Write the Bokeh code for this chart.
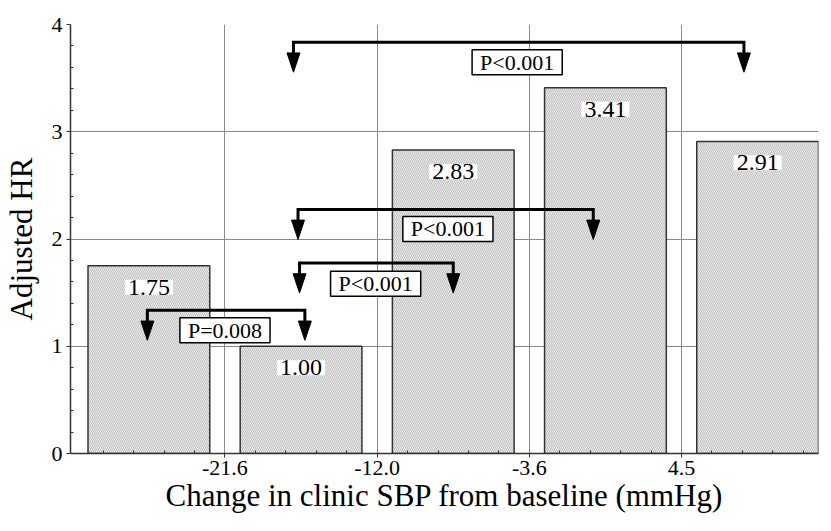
from bokeh.plotting import figure
from bokeh.models import FixedTicker, Label, Range1d
from bokeh.embed import file_html
from bokeh.resources import INLINE

# ---- data ----
bar_pos = [0.5, 1.5, 2.5, 3.5, 4.5]
hr_values = [1.75, 1.00, 2.83, 3.41, 2.91]
hr_labels = ["1.75", "1.00", "2.83", "3.41", "2.91"]
tick_pos = [1, 2, 3, 4]
tick_labels = ["-21.6", "-12.0", "-3.6", "4.5"]

br_left = [1.45, 1.48, 1.49, 0.49]
br_right = [4.41, 3.42, 2.50, 1.525]
br_y = [3.835, 2.276, 1.776, 1.335]
p_text = ["P<0.001", "P<0.001", "P<0.001", "P=0.008"]
p_x = [2.92, 2.465, 1.99, 1.0]
p_y = [3.649, 2.094, 1.582, 1.149]

x_title = "Change in clinic SBP from baseline (mmHg)"
y_title = "Adjusted HR"

FONT = "Liberation Serif"

p = figure(width=820, height=515, x_range=Range1d(-0.015, 4.9), y_range=Range1d(0, 4),
           output_backend="svg", toolbar_location=None,
           min_border_left=62, min_border_right=2, min_border_top=24, min_border_bottom=62)
p.outline_line_color = None
p.background_fill_color = "white"

# bars
p.vbar(x=bar_pos, top=hr_values, width=0.8, bottom=0,
       fill_color="#e8e8e8", line_color="#333333", line_width=1.5,
       hatch_pattern="\\", hatch_color="#a8a8a8", hatch_scale=4, hatch_weight=0.6)

# value labels
for x, v, t in zip(bar_pos, hr_values, hr_labels):
    p.add_layout(Label(x=x, y=v - 0.20, text=t, text_align="center",
                       text_baseline="middle", text_font=FONT, text_font_size="24px",
                       text_color="black", background_fill_color="white",
                       padding=(3, 0)))

# brackets
drop = 0.28
head_len = 0.18
head_w = 0.085
xs, ys, hx, hy = [], [], [], []
for l, r, y in zip(br_left, br_right, br_y):
    base = y - drop + head_len
    tip = y - drop
    xs.append([l, l, r, r])
    ys.append([base, y, y, base])
    for cx in (l, r):
        hx.append([cx - head_w / 2, cx + head_w / 2, cx])
        hy.append([base, base, tip])
p.multi_line(xs=xs, ys=ys, line_color="black", line_width=3, line_join="miter")
p.patches(xs=hx, ys=hy, fill_color="black", line_color="black", line_width=1)

for x, y, t in zip(p_x, p_y, p_text):
    p.add_layout(Label(x=x, y=y, text=t, text_align="center",
                       text_baseline="middle", text_font=FONT, text_font_size="22px",
                       text_color="black", background_fill_color="white",
                       border_line_color="black", border_line_width=1.5,
                       padding=(8, 0)))

# axes
minor_x = [round(i * 0.2, 2) for i in range(25) if i % 5]
minor_y = [round(i * 0.2, 2) for i in range(21) if i % 5]
p.xaxis.ticker = FixedTicker(ticks=tick_pos, minor_ticks=minor_x)
p.xaxis.major_label_overrides = {k: v for k, v in zip(tick_pos, tick_labels)}
p.yaxis.ticker = FixedTicker(ticks=[0, 1, 2, 3, 4], minor_ticks=minor_y)

for ax in (p.xaxis[0], p.yaxis[0]):
    ax.axis_line_color = "#333333"
    ax.axis_line_width = 1.5
    ax.major_tick_out = 4
    ax.major_tick_in = 0
    ax.minor_tick_in = 3
    ax.minor_tick_out = 0
    ax.major_tick_line_color = "#333333"
    ax.minor_tick_line_color = "#333333"
    ax.major_label_text_font = FONT
    ax.major_label_text_font_size = "22px"
    ax.major_label_text_color = "black"
    ax.axis_label_text_font = FONT
    ax.axis_label_text_font_size = "31px"
    ax.axis_label_text_font_style = "normal"
    ax.axis_label_text_color = "black"

p.xaxis.axis_label = x_title
p.yaxis.axis_label = y_title
p.xaxis.major_label_standoff = 3
p.xaxis.axis_label_standoff = 0
p.xaxis.axis_label_text_baseline = "middle"
p.yaxis.major_label_standoff = 4
p.yaxis.axis_label_standoff = 10

p.xgrid.ticker = FixedTicker(ticks=tick_pos)
p.ygrid.ticker = FixedTicker(ticks=[1, 2, 3, 4])
p.grid.grid_line_color = "#8a8a8a"
p.grid.grid_line_width = 1

open("out.html", "w").write(file_html(p, INLINE))
